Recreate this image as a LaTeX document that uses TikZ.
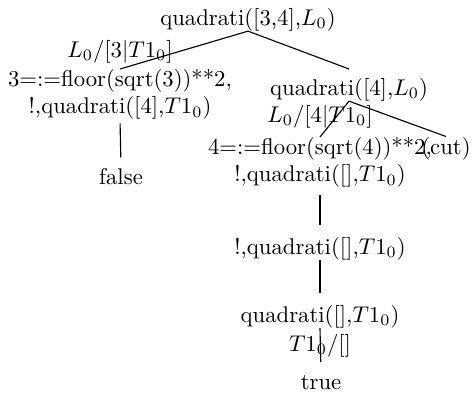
\documentclass[tikz,border=0pt]{standalone}
\usepackage{amsmath}
\usepackage{tikz}
\usetikzlibrary{positioning, calc}
\tikzset{
  goal/.style={inner sep=0pt, anchor=base},
  twogoal/.style={inner sep=0pt, anchor=north, align=center},
  subst/.style={inner sep=0pt, anchor=base},
  branch/.style={line width=0.5pt, color=black}
}

\begin{document}
\begin{tikzpicture}[x=0.44pt, y=-0.44pt]
  \useasboundingbox (0,0) rectangle (474,392);
  \node[goal] (root) at (248,25) {quadrati([3,4],$L_0$)};
  \node[twogoal] (left) at (120,69) {3=:=floor(sqrt(3))**2,\\!,quadrati([4],$T1_0$)};
  \node[goal] (false) at (121,184) {false};
  \node[goal] (qr) at (349,95) {quadrati([4],$L_0$)};
  \node[twogoal] (mid) at (320,137) {4=:=floor(sqrt(4))**2,\\!,quadrati([],$T1_0$)};
  \node[goal] (cut) at (446,154) {(cut)};
  \node[goal] (m2) at (320,254) {!,quadrati([],$T1_0$)};
  \node[goal] (m3) at (320,322) {quadrati([],$T1_0$)};
  \node[goal] (true) at (321,389) {true};

  \node[subst] (sub1) at (120,57) {$L_0/[3|T1_0]$};
  \node[subst] (sub2) at (320,122) {$L_0/[4|T1_0]$};
  \node[subst] (sub3) at (320,351) {$T1_0/[]$};

  \draw[branch] (root.south) -- (left.north);
  \draw[branch] (root.south) -- (qr.north |- left.north);
  \draw[branch] (qr.south) -- (mid.north);
  \draw[branch] (qr.south) -- (cut.north);
  \draw[branch, shorten <=1.5pt, shorten >=4.5pt] (left.south) -- (false.north);
  \draw[branch, shorten <=3pt, shorten >=5pt] (mid.south) -- (m2.north);
  \draw[branch, shorten >=5pt] (m2.south) -- (m3.north);
  \draw[branch, shorten >=5.5pt] (m3.south) -- (true.north);
\end{tikzpicture}
\end{document}
